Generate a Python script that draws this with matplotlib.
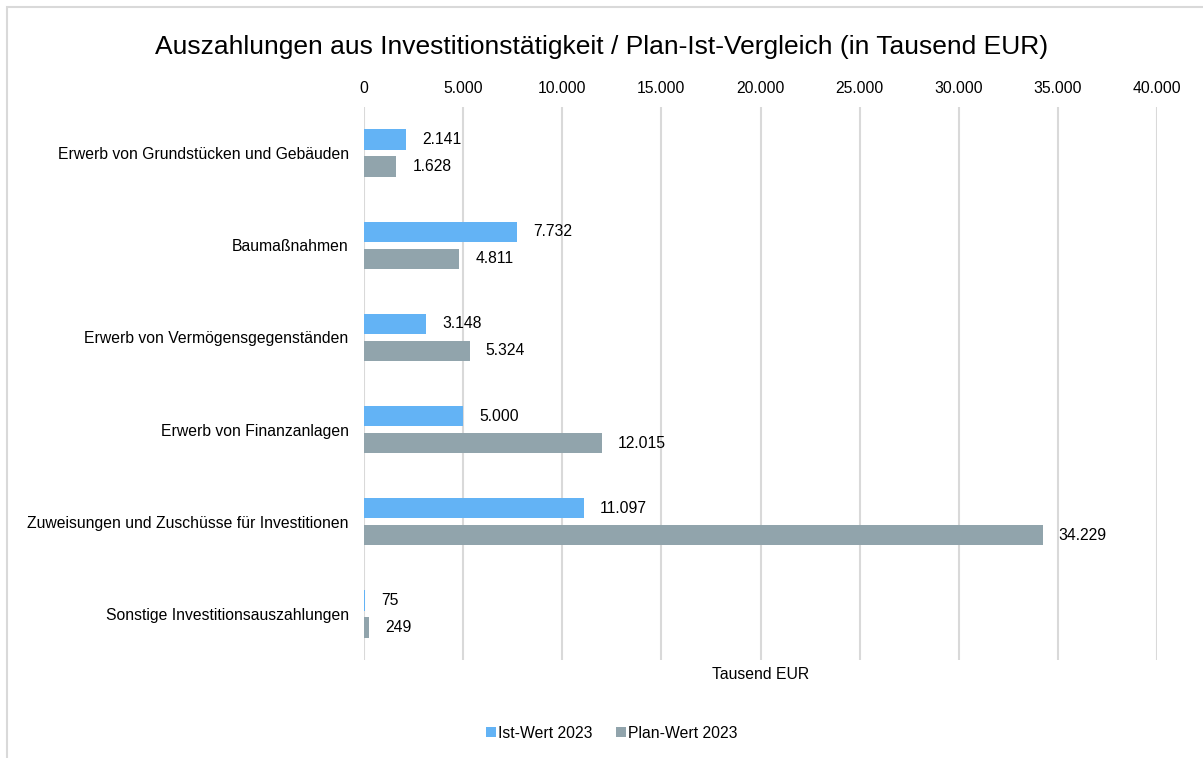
import numpy as np
import matplotlib.pyplot as plt
from matplotlib.patches import Rectangle
from matplotlib.ticker import FuncFormatter

plt.rcParams['font.family'] = ['Liberation Sans', 'DejaVu Sans']

categories = ['Erwerb von Grundstücken und Gebäuden',
              'Baumaßnahmen',
              'Erwerb von Vermögensgegenständen',
              'Erwerb von Finanzanlagen',
              'Zuweisungen und Zuschüsse für Investitionen',
              'Sonstige Investitionsauszahlungen']
ist_2023 = [2141, 7732, 3148, 5000, 11097, 75]
plan_2023 = [1628, 4811, 5324, 12015, 34229, 249]
x_ticks = [0, 5000, 10000, 15000, 20000, 25000, 30000, 35000, 40000]

blue = '#63b3f5'
gray = '#91a4ac'
grid_col = '#d9d9d9'
fs = 11.3


def de_format(v, pos=None):
    return '{:,.0f}'.format(v).replace(',', '.')


fig = plt.figure(figsize=(12.03, 7.58), dpi=100)
# chart frame (only left and top edges visible in the reference)
fig.patches.append(Rectangle((7 / 1203, -0.1), 1.2, (758 - 7) / 758 + 0.1,
                             transform=fig.transFigure, fill=False,
                             edgecolor='#d9d9d9', linewidth=1.5))

ax = fig.add_axes([364 / 1203, 1 - 660 / 758, (1157 - 364) / 1203, (660 - 107) / 758])

y = np.arange(len(categories))
h = 0.22
off = 0.147
b1 = ax.barh(y - off, ist_2023, height=h, color=blue, label='Ist-Wert 2023', zorder=3)
b2 = ax.barh(y + off, plan_2023, height=h, color=gray, label='Plan-Wert 2023', zorder=3)

for bars, vals in ((b1, ist_2023), (b2, plan_2023)):
    for bar, v in zip(bars, vals):
        ax.annotate(de_format(v), (bar.get_width(), bar.get_y() + bar.get_height() / 2),
                    xytext=(16, 0), textcoords='offset pixels', va='center', ha='left',
                    fontsize=fs, color='#000000')

ax.set_xlim(0, 40000)
ax.set_ylim(len(categories) - 0.5, -0.5)
ax.set_xticks(x_ticks)
ax.xaxis.set_major_formatter(FuncFormatter(de_format))
ax.xaxis.tick_top()
ax.set_yticks(y)
ax.set_yticklabels(categories)
ax.tick_params(axis='both', length=0, labelsize=fs, colors='#000000')
ax.tick_params(axis='x', pad=8)
ax.tick_params(axis='y', pad=11)
ax.grid(axis='x', color=grid_col, linewidth=1.5, zorder=0)
for s in ax.spines.values():
    s.set_visible(False)

ax.set_xlabel('Tausend EUR', fontsize=fs, labelpad=5)

fig.text(0.5, 1 - 47 / 758, 'Auszahlungen aus Investitionstätigkeit / Plan-Ist-Vergleich (in Tausend EUR)',
         ha='center', va='center', fontsize=19)

fig.legend(handles=[b1, b2], loc='center', bbox_to_anchor=(612 / 1203, 1 - 733 / 758), ncol=2,
           frameon=False, fontsize=fs, handlelength=0.6, handleheight=0.6,
           handletextpad=0.15, columnspacing=1.5)

plt.savefig('out.png', dpi=100)
